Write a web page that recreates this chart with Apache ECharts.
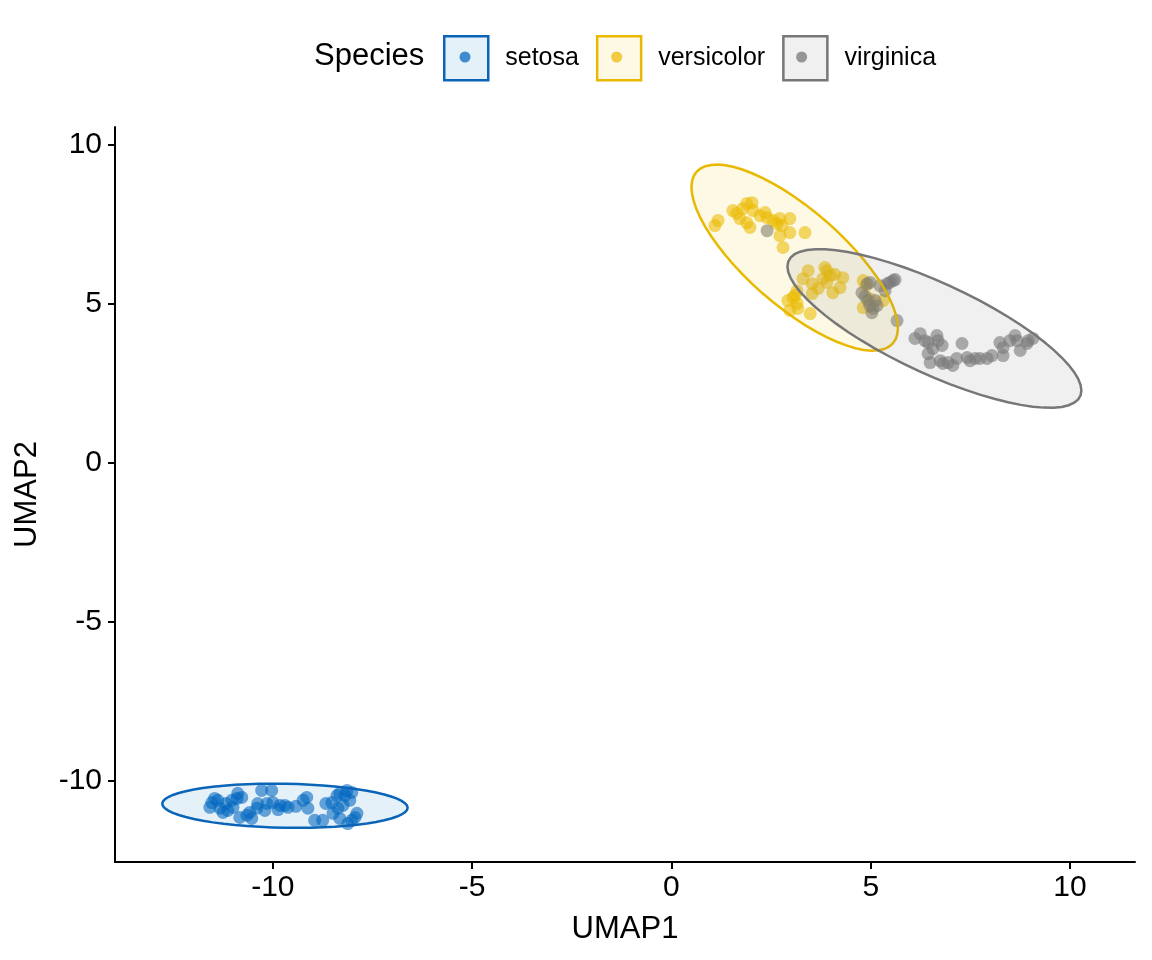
<!DOCTYPE html>
<html style="height: 100%">
<head>
<meta charset="utf-8">
<title>UMAP iris</title>
<script src="https://cdn.jsdelivr.net/npm/echarts@6/dist/echarts.min.js"></script>
</head>
<body style="height: 100%; margin: 0">
<div id="container" style="width: 1152px; height: 960px"></div>
<script type="text/javascript">
var species = ['setosa', 'versicolor', 'virginica'];
var colors = ['#0a64b8', '#E8B900', '#777777'];
var pointColors = ['rgba(0,100,190,0.72)', 'rgba(236,185,0,0.72)', 'rgba(120,120,120,0.75)'];
var fillColors = ['rgba(0,115,194,0.1)', 'rgba(239,192,0,0.1)', 'rgba(134,134,134,0.12)'];
var xTicks = [-10, -5, 0, 5, 10];
var yTicks = [-10, -5, 0, 5, 10];

// UMAP coordinates
var setosa = [
    [-11.46,-10.55],[-11.53,-10.68],[-11.38,-10.61],[-11.58,-10.83],[-11.33,-10.86],
    [-11.25,-10.99],[-11.13,-10.93],[-11.03,-10.61],[-11.00,-10.83],[-10.88,-10.39],
    [-10.78,-10.52],[-10.90,-10.55],[-10.83,-11.15],[-10.65,-11.08],[-10.53,-11.18],
    [-10.40,-10.86],[-10.38,-10.71],[-10.28,-10.30],[-10.03,-10.30],[-10.20,-10.93],
    [-10.15,-10.71],[-10.00,-10.68],[-9.82,-10.77],[-9.70,-10.77],[-9.62,-10.83],
    [-9.24,-10.61],[-9.15,-10.52],[-9.12,-10.86],[-8.95,-11.24],[-8.75,-11.24],
    [-8.52,-10.68],[-8.39,-10.46],[-8.32,-10.39],[-8.37,-10.86],[-8.49,-11.02],
    [-8.32,-11.18],[-8.14,-10.30],[-8.07,-10.61],[-8.02,-10.36],[-7.94,-11.15],
    [-7.89,-11.02],[-8.12,-11.34],[-8.19,-10.46],[-11.18,-10.71],[-10.58,-10.99],
    [-9.87,-10.90],[-9.42,-10.80],[-8.67,-10.71],[-8.02,-11.24],[-8.24,-10.77]
];
var versicolor = [
    [1.09,7.47],[1.17,7.63],[1.54,7.94],[1.64,7.85],[1.72,7.69],
    [1.89,8.16],[2.02,8.19],[2.05,7.94],[1.89,7.56],[1.97,7.41],
    [2.35,7.88],[2.40,7.72],[2.55,7.63],[2.65,7.53],[2.72,7.69],
    [2.77,7.47],[2.97,7.69],[2.72,7.15],[2.97,7.25],[3.35,7.25],
    [2.80,6.78],[1.79,8.00],[2.22,7.78],[3.43,6.05],[3.85,6.15],
    [3.90,6.05],[4.10,5.93],[4.30,5.83],[3.80,5.80],[3.90,5.68],
    [3.53,5.64],[3.30,5.80],[4.23,5.52],[4.05,5.36],[3.53,5.33],
    [3.15,5.42],[3.05,5.20],[2.92,5.11],[3.15,5.02],[2.97,4.80],
    [3.17,4.86],[3.48,4.70],[4.81,5.74],[4.81,4.89],[5.31,5.11],
    [4.88,5.58],[3.10,5.27],[3.98,5.90],[3.68,5.49],[4.98,5.17]
];
var virginica = [
    [2.40,7.31],[4.78,5.36],[4.91,5.64],[4.98,5.68],[5.23,5.58],
    [5.41,5.64],[5.48,5.68],[5.56,5.74],[5.61,5.77],[4.93,5.11],
    [4.98,4.95],[5.06,4.86],[5.16,4.95],[5.03,4.73],[5.66,4.48],
    [6.11,3.92],[6.24,4.07],[6.44,3.79],[6.66,4.01],[6.69,3.85],
    [6.79,3.70],[6.44,3.44],[6.49,3.16],[6.74,3.22],[6.81,3.13],
    [7.06,3.07],[7.16,3.29],[7.29,3.76],[7.42,3.32],[7.62,3.29],
    [7.74,3.29],[7.92,3.29],[8.24,3.79],[8.32,3.63],[8.32,3.38],
    [8.62,4.01],[8.67,3.85],[8.75,3.54],[8.92,3.76],[9.07,3.92],
    [8.95,3.85],[5.36,5.42],[4.86,5.24],[5.11,5.11],[6.56,3.60],
    [6.94,3.16],[7.49,3.22],[8.04,3.38],[8.49,3.85],[6.36,3.85]
];
var groups = [setosa, versicolor, virginica];

// normal-theory 95% ellipse, as stat_ellipse(type = "norm")
function ellipsePoints(pts, level) {
    var n = pts.length, mx = 0, my = 0, sxx = 0, syy = 0, sxy = 0;
    pts.forEach(function (p) { mx += p[0]; my += p[1]; });
    mx /= n; my /= n;
    pts.forEach(function (p) {
        sxx += (p[0] - mx) * (p[0] - mx);
        syy += (p[1] - my) * (p[1] - my);
        sxy += (p[0] - mx) * (p[1] - my);
    });
    sxx /= n - 1; syy /= n - 1; sxy /= n - 1;
    var d2 = n - 1;
    var fq = d2 / 2 * (Math.pow(1 - level, -2 / d2) - 1);
    var r = Math.sqrt(2 * fq);
    var a = Math.sqrt(sxx), b = sxy / a, c = Math.sqrt(syy - b * b);
    var out = [];
    for (var i = 0; i <= 60; i++) {
        var t = 2 * Math.PI * i / 60;
        out.push([mx + r * a * Math.cos(t), my + r * (b * Math.cos(t) + c * Math.sin(t))]);
    }
    return out;
}

var font = 'Liberation Sans, Arial, sans-serif';
var boxIcon = 'path://M0,0H44V44H0Z M56,0';
var dotIcon = 'path://M0,0 M56,44 M27.5,22 A5.5,5.5 0 1 1 16.5,22 A5.5,5.5 0 1 1 27.5,22 Z';

var series = [];
groups.forEach(function (g, i) {
    series.push({
        name: species[i],
        type: 'scatter',
        data: g,
        symbolSize: 13,
        itemStyle: { color: pointColors[i] },
        z: 2
    });
});
groups.forEach(function (g, i) {
    var ell = ellipsePoints(g, 0.95);
    series.push({
        name: species[i],
        type: 'custom',
        data: [g[0]],
        silent: true,
        z: 3,
        renderItem: function (params, api) {
            return {
                type: 'polygon',
                shape: { points: ell.map(function (p) { return api.coord(p); }) },
                style: { fill: fillColors[i], stroke: colors[i], lineWidth: 2.5 }
            };
        }
    });
});

var legendBase = {
    left: 438,
    top: 30,
    itemWidth: 56,
    itemHeight: 44,
    itemGap: 17,
    selectedMode: false
};

var dom = document.getElementById('container');
var myChart = echarts.init(dom);
var option = {
    backgroundColor: '#fff',
    animation: false,
    textStyle: { fontFamily: font },
    title: {
        text: 'Species',
        left: 309,
        top: 36,
        textStyle: { fontSize: 31, fontWeight: 'normal', color: '#000', fontFamily: font }
    },
    legend: [
        Object.assign({}, legendBase, {
            textStyle: { fontSize: 25, color: '#000', fontFamily: font },
            data: species.map(function (s, i) {
                return { name: s, icon: boxIcon, itemStyle: { color: fillColors[i], borderColor: colors[i], borderWidth: 2.5, opacity: 1 } };
            })
        }),
        Object.assign({}, legendBase, {
            textStyle: { fontSize: 25, color: 'rgba(0,0,0,0)', fontFamily: font },
            data: species.map(function (s, i) {
                return { name: s, icon: dotIcon, itemStyle: { color: pointColors[i], borderWidth: 0, opacity: 1 } };
            })
        })
    ],
    grid: { left: 115, right: 17, top: 127, bottom: 98 },
    xAxis: {
        type: 'value',
        min: -13.96,
        max: 11.63,
        name: 'UMAP1',
        nameLocation: 'middle',
        nameGap: 52,
        nameTextStyle: { fontSize: 31, color: '#000', fontFamily: font },
        axisLine: { onZero: false, lineStyle: { color: '#000', width: 2 } },
        axisTick: { length: 7, lineStyle: { color: '#000', width: 2 }, customValues: xTicks },
        axisLabel: { fontSize: 30, color: '#000', margin: 11, customValues: xTicks, fontFamily: font },
        splitLine: { show: false }
    },
    yAxis: {
        type: 'value',
        min: -12.55,
        max: 10.57,
        name: 'UMAP2',
        nameLocation: 'middle',
        nameGap: 72,
        nameTextStyle: { fontSize: 31, color: '#000', fontFamily: font },
        axisLine: { onZero: false, lineStyle: { color: '#000', width: 2 } },
        axisTick: { length: 7, lineStyle: { color: '#000', width: 2 }, customValues: yTicks },
        axisLabel: { fontSize: 30, color: '#000', margin: 13, customValues: yTicks, fontFamily: font },
        splitLine: { show: false }
    },
    series: series
};
myChart.setOption(option, true);
</script>
</body>
</html>
